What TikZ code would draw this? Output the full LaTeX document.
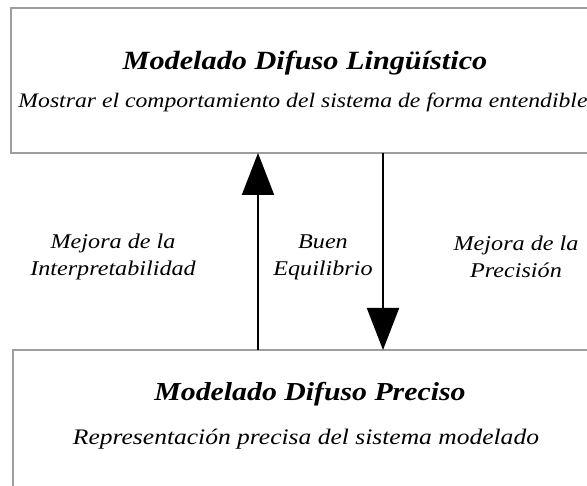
\documentclass[tikz,border=0pt]{standalone}
\usepackage{fontspec}
\setmainfont{Liberation Serif}[FakeStretch=1.15]
\usetikzlibrary{arrows.meta}
\begin{document}
\begin{tikzpicture}[x=1pt,y=-1pt,
  box/.style={draw=black!38, line width=1.3pt, fill=white},
  ttl/.style={font=\fontsize{26.3}{30}\selectfont\bfseries\itshape, inner sep=0pt, anchor=base},
  sub/.style={font=\fontsize{20.6}{24}\selectfont\itshape, inner sep=0pt, anchor=base},
  lbl/.style={font=\fontsize{21}{27}\selectfont\itshape, align=center, inner sep=0pt},
  arr/.style={line width=2pt, -{Triangle[length=42pt,width=32pt]}}
]
\useasboundingbox (0,0) rectangle (587,486);
\fill[white] (0,0) rectangle (587,486);
\draw[box] (11,8) rectangle (620,153);
\draw[box] (13,350) rectangle (620,520);
\coordinate (topL) at (258,153);
\coordinate (botL) at (258,350);
\coordinate (topR) at (383,153);
\coordinate (botR) at (383,350);
\node[ttl] (t1) at (305,70) {Modelado Difuso Lingüístico};
\node[sub] (s1) at (303,108) {Mostrar el comportamiento del sistema de forma entendible};
\node[ttl, font=\fontsize{25.9}{30}\selectfont\bfseries\itshape] (t2) at (310,401) {Modelado Difuso Preciso};
\node[sub, font=\fontsize{22.2}{26}\selectfont\itshape] (s2) at (306,445) {Representación precisa del sistema modelado};
\node[lbl] (l1) at (113,257) {Mejora de la\\Interpretabilidad};
\node[lbl] (l2) at (323,257) {Buen\\Equilibrio};
\node[lbl] (l3) at (516,257) {Mejora de la\\Precisión};
\draw[arr] (botL) -- (topL);
\draw[arr] (topR) -- (botR);
\end{tikzpicture}
\end{document}
